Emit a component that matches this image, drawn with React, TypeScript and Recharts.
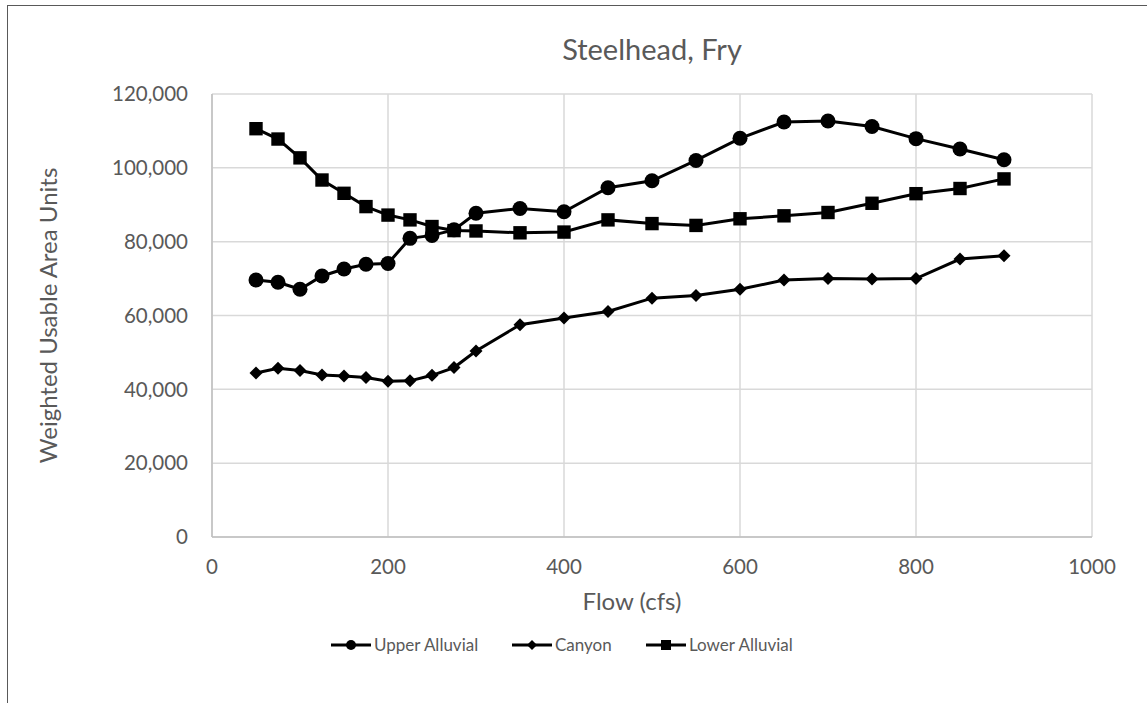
import { LineChart, Line, XAxis, YAxis, CartesianGrid } from 'recharts';

const flows = [50, 75, 100, 125, 150, 175, 200, 225, 250, 275, 300, 350, 400, 450, 500, 550, 600, 650, 700, 750, 800, 850, 900];

const upperAlluvial = [69600, 69000, 67100, 70700, 72600, 73900, 74100, 80900, 81700, 83200, 87700, 89000, 88100, 94600, 96500, 102000, 108000, 112400, 112700, 111200, 107900, 105100, 102200];
const canyon = [44400, 45700, 45100, 43900, 43600, 43200, 42200, 42300, 43800, 45900, 50400, 57500, 59300, 61100, 64700, 65400, 67100, 69600, 70000, 69900, 70000, 75300, 76200];
const lowerAlluvial = [110600, 107800, 102700, 96700, 93100, 89500, 87200, 85900, 84100, 83000, 82900, 82400, 82600, 85900, 84900, 84400, 86200, 87000, 87900, 90400, 93000, 94400, 97000];

const xTicks = [0, 200, 400, 600, 800, 1000];
const yTicks = [0, 20000, 40000, 60000, 80000, 100000, 120000];

const data = flows.map((f, i) => ({
  flow: f,
  upper: upperAlluvial[i],
  canyon: canyon[i],
  lower: lowerAlluvial[i],
}));

const FONT = 'Lato, "Open Sans", sans-serif';
const TEXT = '#595959';

const CircleDot = (p: any) => <circle key={`c-${p.index}`} cx={p.cx} cy={p.cy} r={7.5} fill="#000" />;
const DiamondDot = (p: any) => (
  <polygon
    key={`d-${p.index}`}
    points={`${p.cx},${p.cy - 6.5} ${p.cx + 6.5},${p.cy} ${p.cx},${p.cy + 6.5} ${p.cx - 6.5},${p.cy}`}
    fill="#000"
  />
);
const SquareDot = (p: any) => <rect key={`s-${p.index}`} x={p.cx - 6.7} y={p.cy - 6.7} width={13.4} height={13.4} fill="#000" />;

function LegendIcon({ kind }: { kind: 'circle' | 'diamond' | 'square' }) {
  return (
    <svg width={42} height={20} style={{ display: 'block' }}>
      <line x1={1} y1={10} x2={41} y2={10} stroke="#000" strokeWidth={3} />
      {kind === 'circle' && <circle cx={21} cy={10} r={5} fill="#000" />}
      {kind === 'diamond' && <polygon points="21,5 26,10 21,15 16,10" fill="#000" />}
      {kind === 'square' && <rect x={16} y={5} width={10} height={10} fill="#000" />}
    </svg>
  );
}

const legendItems: { label: string; kind: 'circle' | 'diamond' | 'square'; left: number }[] = [
  { label: 'Upper Alluvial', kind: 'circle', left: 330 },
  { label: 'Canyon', kind: 'diamond', left: 511 },
  { label: 'Lower Alluvial', kind: 'square', left: 645 },
];

export default function App() {
  return (
    <div style={{ position: 'absolute', left: 0, top: 0, width: 1147, height: 703, background: '#fff', overflow: 'hidden', fontFamily: FONT }}>
      <div style={{ position: 'absolute', left: 7, top: 5, width: 1140, height: 0, borderTop: '1.5px solid #595959' }} />
      <div style={{ position: 'absolute', left: 7, top: 5, width: 0, height: 700, borderLeft: '1.5px solid #595959' }} />
      <div
        style={{
          position: 'absolute',
          left: 452,
          top: 32,
          width: 400,
          textAlign: 'center',
          fontSize: 29,
          lineHeight: 1.2,
          color: TEXT,
        }}
      >
        Steelhead, Fry
      </div>
      <div style={{ position: 'absolute', left: 0, top: 0 }}>
        <LineChart width={1147} height={703} data={data} margin={{ top: 94, right: 55, bottom: 102, left: 0 }}>
          <CartesianGrid stroke="#d9d9d9" strokeWidth={1.5} />
          <XAxis
            dataKey="flow"
            type="number"
            domain={[0, 1000]}
            ticks={xTicks}
            height={64}
            tickSize={0}
            tickMargin={22}
            stroke="#bfbfbf"
            strokeWidth={1.5}
            tick={{ fill: TEXT, fontSize: 20.5, fontFamily: FONT }}
            label={{ value: 'Flow (cfs)', position: 'center', dx: -20, dy: 32, fill: TEXT, fontSize: 24, fontFamily: FONT }}
          />
          <YAxis
            type="number"
            domain={[0, 120000]}
            ticks={yTicks}
            width={212}
            tickSize={0}
            tickMargin={24}
            stroke="#bfbfbf"
            strokeWidth={1.5}
            tickFormatter={(v: number) => v.toLocaleString('en-US')}
            tick={{ fill: TEXT, fontSize: 20.5, fontFamily: FONT }}
            label={{ value: 'Weighted Usable Area Units', angle: -90, position: 'center', dx: -58, fill: TEXT, fontSize: 24, fontFamily: FONT }}
          />
          <Line dataKey="upper" stroke="#000" strokeWidth={3} dot={CircleDot} isAnimationActive={false} />
          <Line dataKey="canyon" stroke="#000" strokeWidth={3} dot={DiamondDot} isAnimationActive={false} />
          <Line dataKey="lower" stroke="#000" strokeWidth={3} dot={SquareDot} isAnimationActive={false} />
        </LineChart>
      </div>
      {legendItems.map((it) => (
        <div key={it.label} style={{ position: 'absolute', left: it.left, top: 633, display: 'flex', alignItems: 'center', gap: 2 }}>
          <LegendIcon kind={it.kind} />
          <span style={{ fontSize: 17, color: TEXT, lineHeight: '24px' }}>{it.label}</span>
        </div>
      ))}
    </div>
  );
}
